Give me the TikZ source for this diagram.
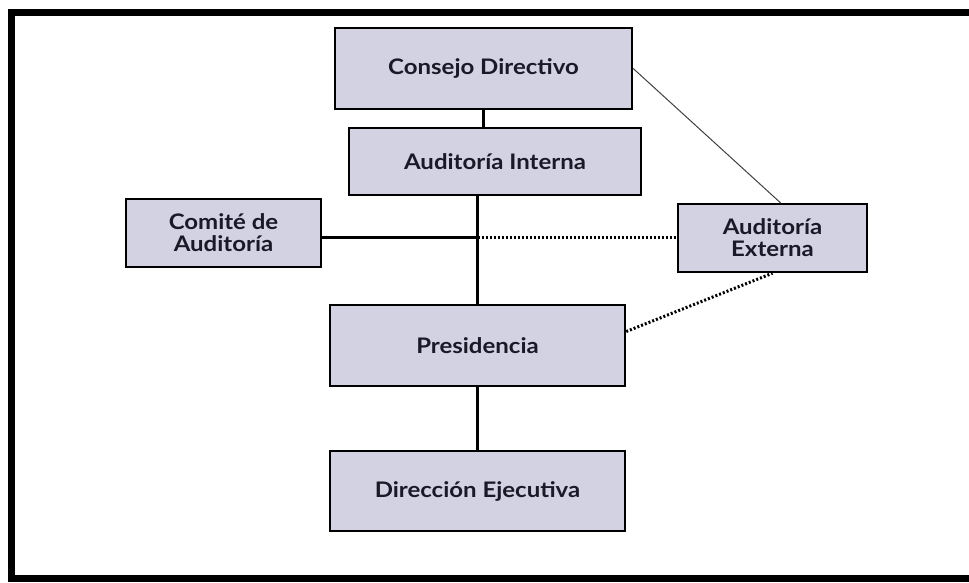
\documentclass[tikz,border=0pt]{standalone}
\usepackage{fontspec}
\setmainfont{Lato}[FakeStretch=1.12]

\definecolor{cajafondo}{RGB}{210,210,226}
\definecolor{textocaja}{RGB}{25,25,40}

\begin{document}
\begin{tikzpicture}[x=1bp, y=-1bp,
    caja/.style={draw=black, fill=cajafondo, line width=2.4bp, inner sep=0pt, align=center,
        text=textocaja, font=\fontsize{21.5}{22}\selectfont\bfseries},
    linea/.style={line width=3bp},
    fina/.style={line width=1bp, black!75},
    punteado/.style={line width=3bp, dash pattern=on 2bp off 2bp}]
    \useasboundingbox (0,0) rectangle (969,583);

    \draw[line width=7bp] (969,13) -- (11,13) -- (11,578) -- (969,578); % marco

    \node[caja, minimum width=297bp, minimum height=81bp] (consejo) at (483.5,68.5) {Consejo Directivo};
    \node[caja, minimum width=292bp, minimum height=67bp] (interna) at (495,161.5) {Auditoría Interna};
    \node[caja, minimum width=195bp, minimum height=68bp] (comite) at (223.5,233) {Comité de\\Auditoría};
    \node[caja, minimum width=189bp, minimum height=68bp] (externa) at (772.5,238) {Auditoría\\Externa};
    \node[caja, minimum width=295bp, minimum height=81bp] (presidencia) at (477.5,345.5) {Presidencia};
    \node[caja, minimum width=295bp, minimum height=80bp] (direccion) at (477.5,491) {Dirección Ejecutiva};

    \coordinate (cruce) at (presidencia.north |- externa.west);

    \draw[linea] (consejo.south) -- (consejo.south |- interna.north); % consejo - interna
    \draw[linea] (presidencia.north |- interna.south) -- (presidencia.north); % interna - presidencia
    \draw[linea] (presidencia.south) -- (direccion.north); % presidencia - direccion
    \draw[linea] (comite.east |- cruce) -- (cruce); % comite
    \draw[punteado] (cruce) -- (externa.west); % externa
    \draw[fina] (consejo.east) -- ([xshift=8bp]externa.north);
    \draw[punteado] ([yshift=14bp]presidencia.east) -- (externa.south);
\end{tikzpicture}
\end{document}
